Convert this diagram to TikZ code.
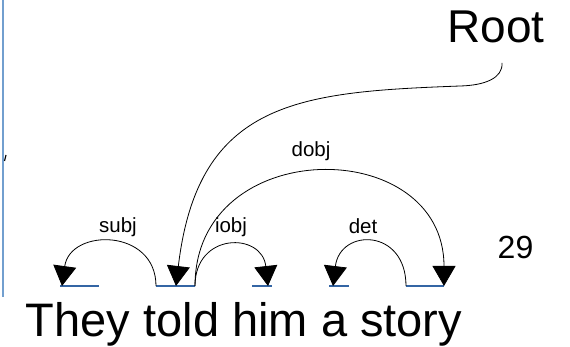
\documentclass[tikz,border=0pt]{standalone}
\usepackage{fontspec}
\setmainfont{Liberation Sans}
\usetikzlibrary{arrows.meta}
\definecolor{wordline}{RGB}{52,101,164}
\definecolor{frameblue}{RGB}{114,159,207}
\tikzset{
  dep/.style={draw=black, line width=0.8pt, -{Triangle[width=23pt,length=20pt]}},
  underline/.style={draw=wordline, line width=1.5pt},
  rel/.style={anchor=base, inner sep=0pt, font=\fontsize{20.5}{20.5}\selectfont},
  txt/.style={anchor=base, inner sep=0pt},
}
\begin{document}
\begin{tikzpicture}[x=1pt, y=-1pt]
  \useasboundingbox (0,0) rectangle (570,347);

  % frame edge on the left
  \draw[frameblue, line width=2pt] (3,0) -- (3,297);
  \draw[black, line width=1.2pt] (6,155) -- (4.5,161);

  % word spans
  \coordinate (theyL) at (60,286);  \coordinate (theyR) at (99,286);
  \coordinate (toldL) at (156,286); \coordinate (toldR) at (195,286);
  \coordinate (toldM) at (176,286);
  \coordinate (himL) at (252,286);  \coordinate (himR) at (272,286);
  \coordinate (aL) at (329,286);    \coordinate (aR) at (349,286);
  \coordinate (storyL) at (406,286);\coordinate (storyR) at (444,286);

  \draw[underline] (theyL) -- (theyR);
  \draw[underline] (toldL) -- (toldR);
  \draw[underline] (himL) -- (himR);
  \draw[underline] (aL) -- (aR);
  \draw[underline] (storyL) -- (storyR);

  % sentence and root
  \node[txt, font=\fontsize{47}{47}\selectfont] (sent) at (244,336.5) {They told him a story};
  \node[txt, font=\fontsize{46}{46}\selectfont] (root) at (496,43) {Root};
  \coordinate (rootfoot) at (502,63);
  \node[txt, font=\fontsize{32}{32}\selectfont] (num) at (515.5,259) {29};

  % dependency arcs
  \draw[dep] (toldL) .. controls (156,228) and (70,228) .. (62,286);
  \draw[dep] (toldR) .. controls (195,232) and (262,232) .. (268,286);
  \draw[dep] (toldR) .. controls (195,134) and (444,134) .. (storyR);
  \draw[dep] (storyL) .. controls (406,228) and (340,228) .. (333,286);
  \draw[dep] (rootfoot) .. controls (503,78) and (485,85.4) .. (460,86)
                        .. controls (300,92) and (198,100) .. (toldM);

  % relation labels
  \node[rel] (lsubj) at (118,233) {subj};
  \node[rel] (liobj) at (231,233) {iobj};
  \node[rel] (ldobj) at (311,157) {dobj};
  \node[rel] (ldet) at (363,234) {det};
\end{tikzpicture}
\end{document}
